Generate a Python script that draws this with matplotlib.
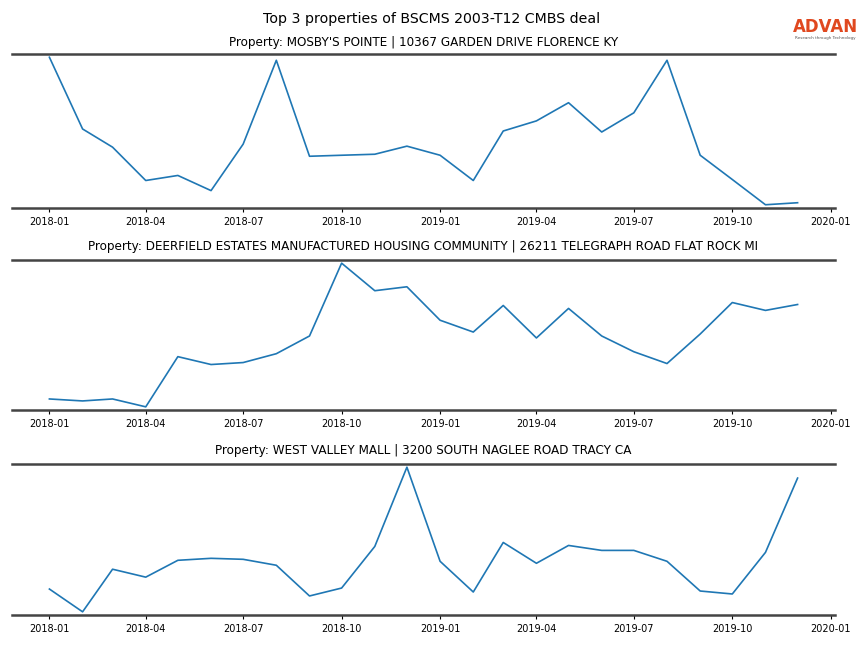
import matplotlib
matplotlib.use("Agg")
import matplotlib.pyplot as plt
import matplotlib.dates as mdates
import pandas as pd

months = pd.date_range("2018-01-01", "2019-12-01", freq="MS")

titles = [
    "Property: MOSBY'S POINTE | 10367 GARDEN DRIVE FLORENCE KY",
    "Property: DEERFIELD ESTATES MANUFACTURED HOUSING COMMUNITY | 26211 TELEGRAPH ROAD FLAT ROCK MI",
    "Property: WEST VALLEY MALL | 3200 SOUTH NAGLEE ROAD TRACY CA",
]

mosby = [162, 91, 73, 40, 45, 30, 76, 159, 64, 65, 66, 74,
         65, 40, 89, 99, 117, 88, 107, 159, 65, 41, 16, 18]
deerfield = [20, 18, 20, 12, 63, 55, 57, 66, 84, 158, 130, 134,
             100, 88, 115, 82, 112, 84, 68, 56, 86, 118, 110, 116]
westvalley = [30, 7, 50, 42, 59, 61, 60, 54, 23, 31, 73, 153,
              58, 27, 77, 56, 74, 69, 69, 58, 28, 25, 67, 142]

series = [mosby, deerfield, westvalley]
suptitle = "Top 3 properties of BSCMS 2003-T12 CMBS deal"

fig = plt.figure(figsize=(8.64, 6.48), dpi=100)
W, H = 864, 648
boxes = [(54, 208), (260, 410), (464, 615)]
pads = [5.5, 7, 7]
left_px, right_px = 12, 835

for (top, bot), vals, title, pad in zip(boxes, series, titles, pads):
    ax = fig.add_axes([left_px / W, 1 - bot / H, (right_px - left_px) / W, (bot - top) / H])
    ax.plot(months, vals, color="#1f77b4", linewidth=1.2)
    ax.margins(y=0.022)
    ax.set_title(title, fontsize=8.65, pad=pad)
    for s in ["left", "right"]:
        ax.spines[s].set_visible(False)
    for s in ["top", "bottom"]:
        ax.spines[s].set_color("#444444")
        ax.spines[s].set_linewidth(1.8)
    ax.set_yticks([])
    ax.xaxis.set_major_locator(mdates.MonthLocator(bymonth=[1, 4, 7, 10]))
    ax.xaxis.set_major_formatter(mdates.DateFormatter("%Y-%m"))
    ax.tick_params(axis="x", labelsize=7, length=3, width=0.8)

fig.text(432 / W, 1 - 19 / H, suptitle, ha="center", va="center", fontsize=10.2)
fig.text(825 / W, 1 - 27 / H, "ADVAN", ha="center", va="center", fontsize=12,
         color="#e0481f", fontweight="semibold")
fig.text(825 / W, 1 - 38.5 / H, "Research through Technology", ha="center", va="center",
         fontsize=3, color="#555555")

fig.savefig("out.png", dpi=100)
